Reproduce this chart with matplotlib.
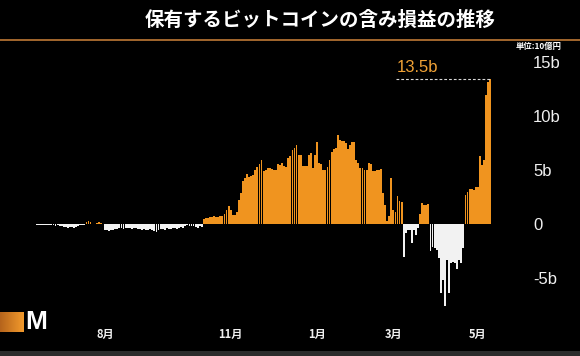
import numpy as np
import matplotlib
matplotlib.use("Agg")
import matplotlib.pyplot as plt
from matplotlib.lines import Line2D
from matplotlib.patches import Rectangle
from matplotlib.colors import LinearSegmentedColormap

plt.rcParams['font.family'] = ['Noto Sans CJK JP', 'DejaVu Sans']

# ---------------- data (unit: 10億円 = "b") ----------------
title = "保有するビットコインの含み損益の推移"
unit_label = "単位:10億円"

values = [
    -0.03, -0.05, -0.04, -0.06, -0.05, -0.07, -0.06, -0.08,
    -0.10, -0.12, -0.10, -0.14, -0.15,
    -0.22, -0.25, -0.30, -0.28, -0.24, -0.30, -0.25,
    -0.12, -0.08, -0.10, -0.05,
    0.20, 0.30, 0.22,
    0.06, 0.05,
    0.15, 0.18, 0.12,
    0.02,
    -0.50, -0.55, -0.60, -0.50, -0.55, -0.45, -0.40,
    -0.35, -0.30, -0.40, -0.35, -0.30, -0.35, -0.40, -0.30, -0.35,
    -0.40, -0.45, -0.50, -0.40, -0.50, -0.55, -0.45, -0.55, -0.60, -0.70, -0.55,
    -0.45, -0.40, -0.50, -0.35, -0.40, -0.45, -0.30, -0.35, -0.40, -0.30, -0.25, -0.30,
    -0.15, -0.10, -0.20, -0.12, -0.15,
    -0.25, -0.30, -0.20, -0.28,
    0.50, 0.55, 0.60, 0.65,
    0.70, 0.75, 0.70, 0.70, 0.75, 0.80,
    1.0, 1.3, 1.7, 1.3, 0.85, 0.9, 1.1, 2.25, 2.9,
    4.0, 4.3, 4.7, 4.4, 4.45, 4.6, 5.0, 5.3, 5.6, 6.0,
    4.9, 5.0, 5.2, 5.2, 5.1, 5.0, 5.0, 5.6, 5.5, 5.7,
    5.4, 5.3, 6.1, 6.3, 6.9, 7.1, 7.3, 6.4, 6.4, 5.4,
    5.4, 5.4, 6.4, 6.6, 5.2, 6.4, 7.6, 5.7, 5.6, 5.0,
    5.0, 5.3, 6.0, 6.7, 7.0, 7.1, 8.3, 7.8, 7.7, 7.7,
    7.5, 7.0, 7.3, 7.6, 7.6, 6.0, 5.7, 5.2, 5.2, 5.0,
    5.0, 5.7, 5.6, 4.9, 4.9, 5.0, 5.0, 5.1, 2.9, 1.8,
    0.3, 0.8, 4.3, 1.3, 1.1, 2.6, 2.2, 2.1,
    -3.0, -0.8, -0.5, -0.5, -1.75, -0.5, -1.0, -0.3,
    1.0, 2.0, 1.8, 1.8, 1.9,
    -2.5, -2.1, -2.2, -2.4, -3.1, -6.4, -5.2, -7.6, -3.3, -6.4,
    -3.6, -3.5, -3.6, -4.1, -3.3, -3.6, -2.2,
    2.7, 3.0, 3.3, 3.3, 3.2, 3.5, 3.5, 6.3, 5.5, 6.0,
    12.0, 13.2, 13.5,
]

month_labels = ["8月", "11月", "1月", "3月", "5月"]
month_positions = [33, 94, 136, 173, 214]   # bar index of first trading day

y_ticks = [-5, 0, 5, 10, 15]
y_tick_labels = ["-5b", "0", "5b", "10b", "15b"]

# ---------------- figure ----------------
W, H = 580, 356
fig = plt.figure(figsize=(W / 100, H / 100), dpi=100, facecolor="black")

ax = fig.add_axes([30 / W, 1 - 315 / H, 467 / W, 260 / H])
ax.set_facecolor("black")

orange = "#f0941f"
white = "#f2f2f2"
x = np.arange(len(values))
vals = np.array(values, dtype=float)
pos = vals >= 0
neg = ~pos
ax.bar(x[pos], vals[pos], width=0.9, color=orange, linewidth=0)
ax.bar(x[neg], vals[neg], width=0.9, color=white, linewidth=0)

ax.set_xlim(-3.4, 223.3)
ax.set_ylim(-8.40, 15.68)

for s in ax.spines.values():
    s.set_visible(False)

ax.set_xticks(month_positions)
ax.set_xticklabels(month_labels, fontsize=8, fontweight="bold", color="#f0f0f0")
ax.tick_params(axis="x", length=0, pad=9)

ax.yaxis.tick_right()
ax.set_yticks(y_ticks)
ax.set_yticklabels(y_tick_labels, fontsize=12, color="#f0f0f0",
                   family=["Liberation Sans"])
ax.tick_params(axis="y", length=0, pad=26)

# peak annotation
peak_idx = int(np.argmax(vals))
peak = vals[peak_idx]
ax.plot([peak_idx - 45.5, peak_idx + 0.3], [peak, peak], color="#d8d8d8",
        lw=0.8, dashes=(2.5, 1.8))
ax.annotate(f"{peak:.1f}b", xy=(peak_idx - 45.2, peak), xytext=(0, 4.5),
            textcoords="offset points", ha="left", va="baseline",
            fontsize=12, color="#f0a236", family=["Liberation Sans"])

# title, rule, unit
fig.text(320 / W, 1 - 20 / H, title, ha="center", va="center", fontsize=14,
         fontweight="bold", color="white")
fig.add_artist(Line2D([0, 1], [1 - 40 / H] * 2, transform=fig.transFigure,
                      color="#a3672e", lw=1.4))
fig.text(562 / W, 1 - 47 / H, unit_label, ha="right", va="center", fontsize=6,
         fontweight="bold", color="white")

# frame strip at bottom
fig.add_artist(Rectangle((0, 0), 1, 5 / H, transform=fig.transFigure,
                         color="#2c2c2c", lw=0))

# logo
lax = fig.add_axes([0, 1 - 332 / H, 24 / W, 20 / H])
cmap = LinearSegmentedColormap.from_list("lg", ["#b5641c", "#f29a2c"])
lax.imshow(np.linspace(0, 1, 64)[None, :], cmap=cmap, aspect="auto")
lax.axis("off")
fig.text(25 / W, 1 - 322 / H, "M", ha="left", va="center", fontsize=19,
         fontweight="bold", color="white", family=["Liberation Sans"])

fig.savefig("out.png", dpi=100, facecolor="black")
